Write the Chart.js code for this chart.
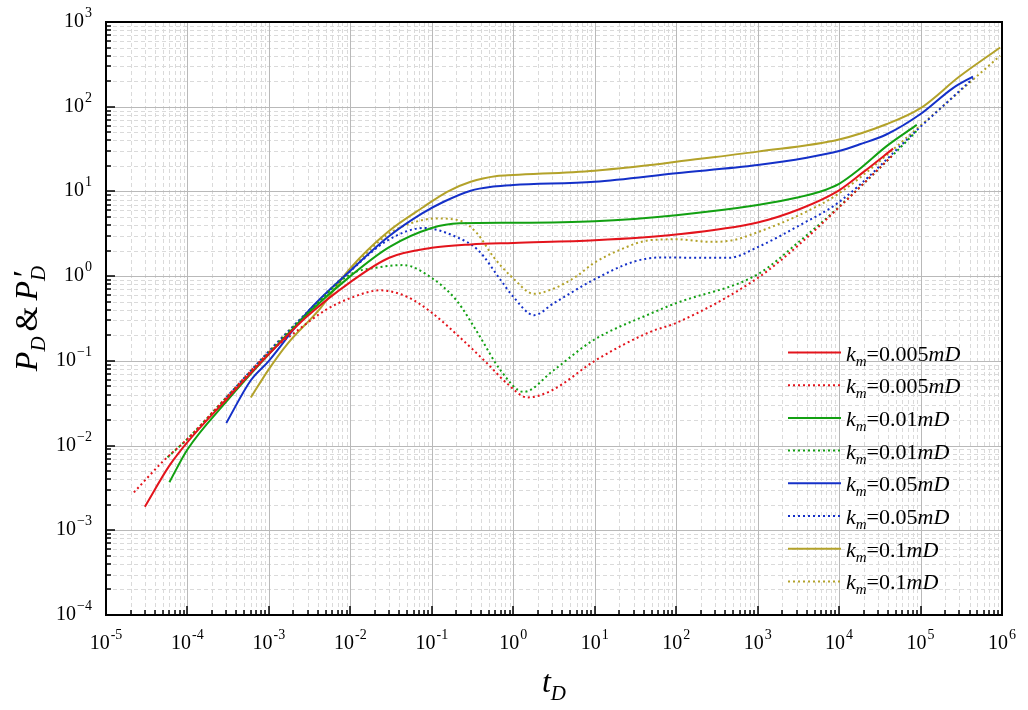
<!DOCTYPE html>
<html>
<head>
<meta charset="utf-8">
<script src="https://cdn.jsdelivr.net/npm/chart.js@4.4.0/dist/chart.umd.min.js"></script>
<style>
  html, body { margin: 0; background: #fff; }
</style>
</head>
<body>
<canvas id="chart" width="1028" height="710"></canvas>
<script>
// values: t_D and P_D / P_D' for each k_m
const tRed   = [3e-5, 6e-5, 1e-4, 3e-4, 1e-3, 3e-3, 1e-2, 3e-2, 0.1, 0.3, 1, 10, 100, 1000, 3300, 1e4, 2e4, 4.6e4];
const pRed   = [0.0019, 0.0058, 0.011, 0.035, 0.12, 0.34, 0.85, 1.65, 2.16, 2.37, 2.47, 2.65, 3.1, 4.3, 6.2, 10.3, 17, 32];
const tRedD  = [2.2e-5, 5e-5, 1e-4, 3e-4, 1e-3, 2e-3, 5e-3, 0.01, 0.023, 0.05, 0.1, 0.22, 0.48, 0.84, 1.5, 3, 10, 48, 100, 1000, 3300, 1e4, 4.6e4];
const pRedD  = [0.0028, 0.0065, 0.012, 0.037, 0.125, 0.21, 0.4, 0.55, 0.68, 0.57, 0.37, 0.19, 0.093, 0.054, 0.037, 0.045, 0.1, 0.22, 0.28, 0.95, 2.4, 6.5, 27];

const tGreen  = [6e-5, 1e-4, 3e-4, 1e-3, 3e-3, 0.01, 0.03, 0.1, 0.22, 1, 10, 100, 1000, 3300, 5800, 1e4, 1.8e4, 3.8e4, 9e4];
const pGreen  = [0.0037, 0.009, 0.033, 0.12, 0.36, 1.0, 2.2, 3.7, 4.2, 4.27, 4.45, 5.25, 6.9, 8.6, 9.9, 12.3, 18.5, 34, 61];
const tGreenD = [5.7e-5, 1e-4, 3e-4, 1e-3, 3e-3, 0.01, 0.02, 0.045, 0.1, 0.2, 0.37, 0.7, 1.34, 3.1, 9.6, 48, 100, 1000, 3300, 1e4, 4.6e4, 9e4];
const pGreenD = [0.0073, 0.012, 0.037, 0.125, 0.37, 1.05, 1.25, 1.35, 0.95, 0.52, 0.21, 0.077, 0.043, 0.077, 0.175, 0.36, 0.48, 1.05, 2.6, 6.6, 27, 52];

const tBlue  = [3e-4, 6e-4, 1e-3, 3e-3, 0.01, 0.029, 0.076, 0.14, 0.3, 0.57, 1, 10, 100, 1000, 4000, 1e4, 1.8e4, 3.8e4, 1e5, 2.5e5, 4.4e5];
const pBlue  = [0.0185, 0.059, 0.1, 0.38, 1.16, 2.9, 5.5, 7.55, 10.2, 11.4, 11.9, 13, 16.4, 20.5, 25, 30, 36, 47, 82, 166, 227];
const tBlueD = [3e-4, 1e-3, 3e-3, 0.01, 0.029, 0.08, 0.2, 0.37, 0.7, 1, 1.8, 3.1, 9.6, 30, 63, 195, 450, 1000, 3300, 1e4, 1e5, 4.4e5];
const pBlueD = [0.037, 0.13, 0.38, 1.15, 2.66, 3.7, 2.9, 2.03, 0.9, 0.57, 0.346, 0.475, 0.9, 1.48, 1.66, 1.65, 1.65, 2.2, 4.0, 7.5, 58, 215];

const tGold  = [6e-4, 1e-3, 1.7e-3, 4.3e-3, 0.01, 0.029, 0.08, 0.154, 0.3, 0.63, 1, 10, 48, 100, 1000, 1e4, 3.8e4, 1e5, 3e5, 9.5e5];
const pGold  = [0.037, 0.08, 0.16, 0.42, 1.24, 3.34, 6.6, 9.9, 13, 15.2, 15.6, 17.6, 20.5, 22.4, 29.5, 41, 62, 96, 227, 500];
const tGoldD = [6e-4, 1e-3, 3e-3, 0.01, 0.028, 0.055, 0.116, 0.224, 0.36, 0.57, 1, 1.78, 3.1, 6, 9.6, 20, 48, 100, 260, 500, 1000, 3300, 1e4, 1e5, 9.5e5];
const pGoldD = [0.075, 0.13, 0.38, 1.2, 3.05, 4.2, 4.8, 4.5, 3.2, 1.69, 0.94, 0.62, 0.71, 1.0, 1.41, 2.03, 2.66, 2.72, 2.54, 2.66, 3.3, 5.3, 9.5, 60, 400];

const kmLabels = ['0.005', '0.005', '0.01', '0.01', '0.05', '0.05', '0.1', '0.1'];
const xExps = [-5, -4, -3, -2, -1, 0, 1, 2, 3, 4, 5, 6];
const yExps = [-4, -3, -2, -1, 0, 1, 2, 3];

const RED = '#e3141c', GREEN = '#12a012', BLUE = '#1430c8', GOLD = '#b3a22a';
const SERIF = '"Liberation Serif", "Times New Roman", serif';

const series = [
  { t: tRed,    p: pRed,    color: RED,   dotted: false },
  { t: tRedD,   p: pRedD,   color: RED,   dotted: true },
  { t: tGreen,  p: pGreen,  color: GREEN, dotted: false },
  { t: tGreenD, p: pGreenD, color: GREEN, dotted: true },
  { t: tBlue,   p: pBlue,   color: BLUE,  dotted: false },
  { t: tBlueD,  p: pBlueD,  color: BLUE,  dotted: true },
  { t: tGold,   p: pGold,   color: GOLD,  dotted: false },
  { t: tGoldD,  p: pGoldD,  color: GOLD,  dotted: true }
];

function pts(t, p) {
  return t.map((v, i) => ({ x: v, y: p[i] }));
}

// text made of several runs (italic, subscripts...)
function textWidth(ctx, parts) {
  let w = 0;
  parts.forEach(p => { ctx.font = p.f; w += p.adv === 0 ? 0 : ctx.measureText(p.s).width + (p.gap || 0); });
  return w;
}
function drawRuns(ctx, parts, x, y) {
  let cx = x;
  parts.forEach(p => {
    ctx.font = p.f;
    ctx.fillText(p.s, cx + (p.dx || 0), y + (p.dy || 0));
    if (p.adv !== 0) cx += ctx.measureText(p.s).width + (p.gap || 0);
  });
}

function power(ctx, exp, x, y, align) {
  const sup = exp < 0 ? (align === 'center' ? '-' : '\u2212') + (-exp) : String(exp);
  const parts = [
    { s: '10', f: '20px ' + SERIF, gap: 1 },
    { s: sup, f: '14px ' + SERIF, dy: -10 }
  ];
  const w = textWidth(ctx, parts);
  const left = align === 'center' ? x - w / 2 : x - w;
  drawRuns(ctx, parts, left, y + 7);
}

const decor = {
  id: 'decor',
  beforeDatasetsDraw(chart) {
    const { ctx, chartArea: a, scales: { x, y } } = chart;
    ctx.save();
    ctx.lineWidth = 1;
    // minor grid, dashed
    ctx.strokeStyle = '#dadada';
    ctx.setLineDash([4, 3]);
    for (let e = -5; e < 6; e++) {
      for (let m = 2; m <= 9; m++) {
        const px = Math.round(x.getPixelForValue(m * Math.pow(10, e))) + 0.5;
        ctx.beginPath(); ctx.moveTo(px, a.top); ctx.lineTo(px, a.bottom); ctx.stroke();
      }
    }
    for (let e = -4; e < 3; e++) {
      for (let m = 2; m <= 9; m++) {
        const py = Math.round(y.getPixelForValue(m * Math.pow(10, e))) + 0.5;
        ctx.beginPath(); ctx.moveTo(a.left, py); ctx.lineTo(a.right, py); ctx.stroke();
      }
    }
    // major grid
    ctx.setLineDash([]);
    ctx.strokeStyle = '#b9b9b9';
    xExps.forEach(e => {
      const px = Math.round(x.getPixelForValue(Math.pow(10, e))) + 0.5;
      ctx.beginPath(); ctx.moveTo(px, a.top); ctx.lineTo(px, a.bottom); ctx.stroke();
    });
    yExps.forEach(e => {
      const py = Math.round(y.getPixelForValue(Math.pow(10, e))) + 0.5;
      ctx.beginPath(); ctx.moveTo(a.left, py); ctx.lineTo(a.right, py); ctx.stroke();
    });
    ctx.restore();
  },
  afterDatasetsDraw(chart) {
    const { ctx, chartArea: a, scales: { x, y } } = chart;
    ctx.save();
    // ticks pointing inward
    ctx.strokeStyle = '#000';
    ctx.lineWidth = 1.5;
    for (let e = -5; e < 6; e++) {
      for (let m = 1; m <= 9; m++) {
        const px = Math.round(x.getPixelForValue(m * Math.pow(10, e)));
        const len = m === 1 ? 9 : 5;
        ctx.beginPath(); ctx.moveTo(px, a.bottom); ctx.lineTo(px, a.bottom - len); ctx.stroke();
      }
    }
    for (let e = -4; e < 3; e++) {
      for (let m = 1; m <= 9; m++) {
        const py = Math.round(y.getPixelForValue(m * Math.pow(10, e)));
        const len = m === 1 ? 9 : 5;
        ctx.beginPath(); ctx.moveTo(a.left, py); ctx.lineTo(a.left + len, py); ctx.stroke();
      }
    }
    // frame
    ctx.lineWidth = 2;
    ctx.strokeRect(a.left, a.top, a.right - a.left, a.bottom - a.top);

    // tick labels
    ctx.fillStyle = '#000';
    ctx.textAlign = 'left';
    ctx.textBaseline = 'alphabetic';
    xExps.forEach(e => power(ctx, e, x.getPixelForValue(Math.pow(10, e)), a.bottom + 27, 'center'));
    yExps.forEach(e => power(ctx, e, 92, y.getPixelForValue(Math.pow(10, e)) - 2, 'right'));

    // axis titles
    const it = 'italic 32px ' + SERIF, itSub = 'italic 21px ' + SERIF, rg = '32px ' + SERIF;
    const xt = [{ s: 't', f: it }, { s: 'D', f: itSub, dy: 8 }];
    drawRuns(ctx, xt, (a.left + a.right) / 2 - textWidth(ctx, xt) / 2, 692);

    const yt = [
      { s: 'P', f: it }, { s: 'D', f: itSub, dy: 8, gap: 5 },
      { s: '&', f: rg, gap: 6 },
      { s: 'P', f: it }, { s: '\u2032', f: it, dy: -2, dx: 2, adv: 0 }, { s: 'D', f: itSub, dy: 8 }
    ];
    ctx.translate(37, (a.top + a.bottom) / 2);
    ctx.rotate(-Math.PI / 2);
    drawRuns(ctx, yt, -textWidth(ctx, yt) / 2, 0);
    ctx.setTransform(1, 0, 0, 1, 0, 0);

    // legend
    series.forEach((s, i) => {
      const ly = 352.5 + i * 32.7;
      ctx.strokeStyle = s.color;
      ctx.lineWidth = 2;
      ctx.setLineDash(s.dotted ? [2, 3] : []);
      ctx.beginPath(); ctx.moveTo(788, ly); ctx.lineTo(841, ly); ctx.stroke();
      ctx.setLineDash([]);
      ctx.fillStyle = '#000';
      drawRuns(ctx, [
        { s: 'k', f: 'italic 22px ' + SERIF },
        { s: 'm', f: 'italic 15px ' + SERIF, dy: 5 },
        { s: '=' + kmLabels[i], f: '22px ' + SERIF },
        { s: 'mD', f: 'italic 22px ' + SERIF }
      ], 846, ly + 8);
    });
    ctx.restore();
  }
};

new Chart(document.getElementById('chart'), {
  type: 'line',
  data: {
    datasets: series.map(s => ({
      data: pts(s.t, s.p),
      borderColor: s.color,
      borderWidth: 2,
      borderDash: s.dotted ? [2, 3] : [],
      pointRadius: 0,
      fill: false,
      cubicInterpolationMode: 'monotone'
    }))
  },
  options: {
    responsive: false,
    animation: false,
    events: [],
    layout: { padding: { top: 22, right: 26, left: 0, bottom: 0 } },
    plugins: { legend: { display: false }, tooltip: { enabled: false } },
    scales: {
      x: {
        type: 'logarithmic', min: 1e-5, max: 1e6,
        grid: { display: false }, border: { display: false }, ticks: { display: false },
        afterFit: s => { s.height = 95; }
      },
      y: {
        type: 'logarithmic', min: 1e-4, max: 1e3,
        grid: { display: false }, border: { display: false }, ticks: { display: false },
        afterFit: s => { s.width = 106; }
      }
    }
  },
  plugins: [decor]
});
</script>
</body>
</html>
